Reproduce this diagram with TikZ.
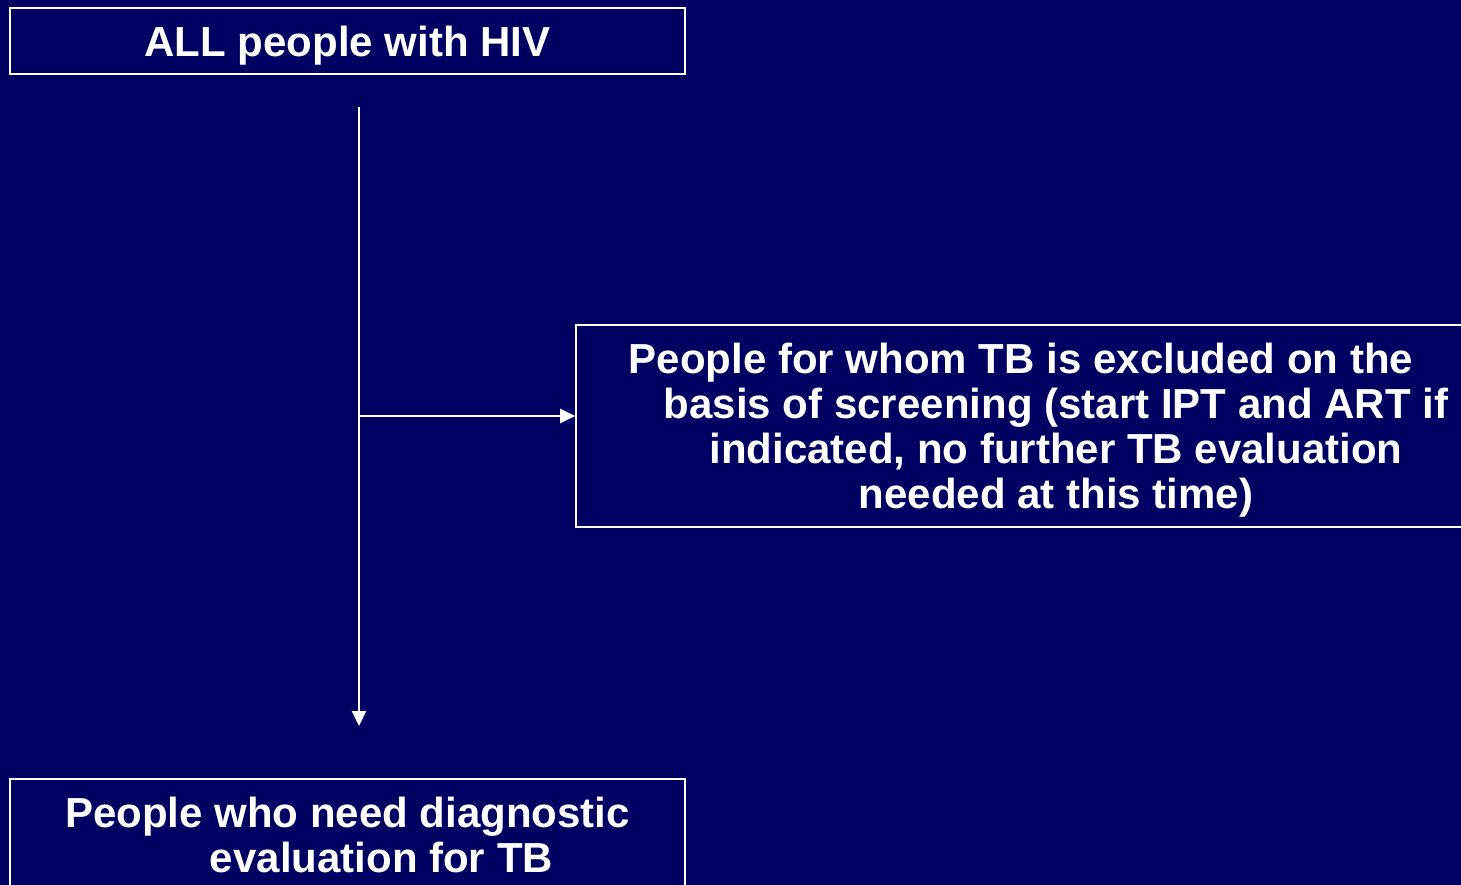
\documentclass[tikz,border=0pt]{standalone}
\usepackage{fontspec}
\setmainfont{Liberation Sans}
\usetikzlibrary{arrows.meta}
\definecolor{navybg}{RGB}{0,0,98}
\begin{document}
\begin{tikzpicture}[x=1pt,y=-1pt,>={Triangle[length=15pt,width=14pt]},
  box/.style={draw=white,line width=1.6pt,text=white,align=center,inner sep=0pt,
    font=\bfseries\fontsize{42}{45}\selectfont}]
\fill[navybg] (0,0) rectangle (1461,885);
\useasboundingbox (0,0) rectangle (1461,885);
\clip (0,0) rectangle (1461,885);

\node[box,text depth=0pt,minimum width=675pt,minimum height=66pt] (all) at (347.5,41) {ALL people with HIV};
\node[box,text depth=0pt,minimum width=960pt,minimum height=202pt] (excl) at (1056,426)
  {People for whom TB is excluded on the\hspace*{70pt}\\
   basis of screening (start IPT and ART if\\
   indicated, no further TB evaluation\\
   needed at this time)};
\node[box,minimum width=675pt,minimum height=112pt] (diag) at (347.5,835)
  {People who need diagnostic\\ \hspace*{68pt}evaluation for TB};

\coordinate (start) at (359,107);
\coordinate (split) at (359,416);
\coordinate (end) at (359,726);
\draw[white,line width=2pt,->] (start) -- (end);
\draw[white,line width=2pt,->] (split) -- (split -| excl.west);
\end{tikzpicture}
\end{document}
